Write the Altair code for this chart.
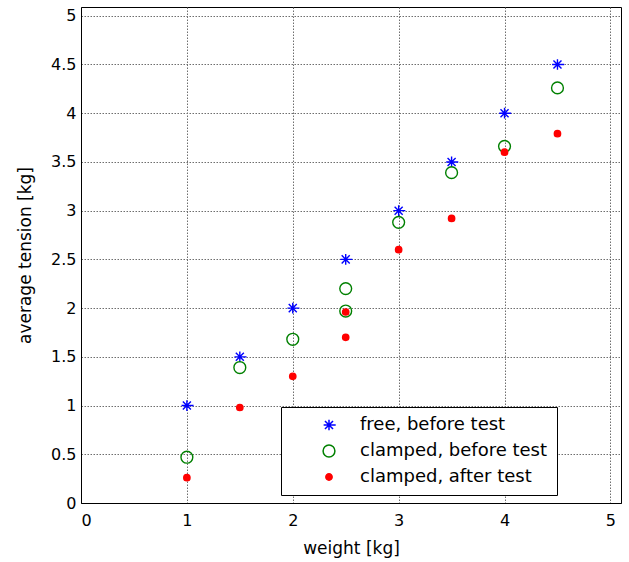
import altair as alt
import pandas as pd

# ---- data ----
series_names = ["free, before test", "clamped, before test", "clamped, after test"]

free_w = [1, 1.5, 2, 2.5, 3, 3.5, 4, 4.5]
free_t = [1.0, 1.5, 2.0, 2.5, 3.0, 3.5, 4.0, 4.5]

clamped_before_w = [1, 1.5, 2, 2.5, 2.5, 3, 3.5, 4, 4.5]
clamped_before_t = [0.47, 1.39, 1.68, 1.97, 2.20, 2.88, 3.39, 3.66, 4.26]

clamped_after_w = [1, 1.5, 2, 2.5, 2.5, 3, 3.5, 4, 4.5]
clamped_after_t = [0.26, 0.98, 1.30, 1.70, 1.96, 2.60, 2.92, 3.60, 3.79]

x_ticks = [0, 1, 2, 3, 4, 5]
y_ticks = [0, 0.5, 1, 1.5, 2, 2.5, 3, 3.5, 4, 4.5, 5]

rows = []
for w, t in zip(free_w, free_t):
    rows.append({"weight": w, "tension": t, "series": series_names[0]})
for w, t in zip(clamped_before_w, clamped_before_t):
    rows.append({"weight": w, "tension": t, "series": series_names[1]})
for w, t in zip(clamped_after_w, clamped_after_t):
    rows.append({"weight": w, "tension": t, "series": series_names[2]})
df = pd.DataFrame(rows)

star = "M-0.8,0L1,0M0,-0.8L0,0.8M-0.6,-0.6L0.6,0.6M-0.6,0.6L0.6,-0.6"
FONT = "DejaVu Sans"

legend = alt.Legend(
    title=None,
    orient="none",
    legendX=200,
    legendY=400,
    fillColor="white",
    strokeColor="black",
    cornerRadius=0,
    padding=9,
    symbolOffset=30,
    labelOffset=22,
    labelFont=FONT,
    labelFontSize=18,
    labelColor="black",
    labelLimit=0,
    rowPadding=8,
    symbolStrokeWidth=1.5,
)

chart = (
    alt.Chart(df)
    .mark_point(filled=False, strokeWidth=1.4, opacity=1)
    .encode(
        x=alt.X(
            "weight:Q",
            scale=alt.Scale(domain=[0, 5.1], nice=False, zero=False),
            axis=alt.Axis(
                title="weight [kg]",
                values=x_ticks,
                format="~g",
                labelPadding=9,
                titleY=45,
                titleBaseline="middle",
            ),
        ),
        y=alt.Y(
            "tension:Q",
            scale=alt.Scale(domain=[0, 5.09], nice=False, zero=False),
            axis=alt.Axis(
                title="average tension [kg]",
                values=y_ticks,
                format="~g",
                labelPadding=5,
                titleX=-56,
                titleY=248,
                titleBaseline="middle",
            ),
        ),
        stroke=alt.Stroke(
            "series:N",
            scale=alt.Scale(domain=series_names, range=["#0000ff", "#008000", "#ff0000"]),
            legend=legend,
        ),
        fill=alt.Fill(
            "series:N",
            scale=alt.Scale(domain=series_names, range=["transparent", "transparent", "#ff0000"]),
            legend=legend,
        ),
        shape=alt.Shape(
            "series:N",
            scale=alt.Scale(domain=series_names, range=[star, "circle", "circle"]),
            legend=legend,
        ),
        size=alt.Size(
            "series:N",
            scale=alt.Scale(type="ordinal", domain=series_names, range=[180, 140, 40]),
            legend=legend,
        ),
    )
    .properties(
        width=540,
        height=496,
        autosize=alt.AutoSizeParams(type="none"),
        padding={"left": 81, "top": 7, "right": 8, "bottom": 59},
        background="white",
    )
    .configure_view(stroke="black", strokeWidth=1)
    .configure_axis(
        labelFont=FONT,
        labelFontSize=16,
        labelColor="black",
        titleFont=FONT,
        titleFontSize=17,
        titleFontWeight="normal",
        titleColor="black",
        domainColor="black",
        domainWidth=1,
        ticks=False,
        labelOverlap=False,
        grid=True,
        gridColor="#6e6e6e",
        gridDash=[1.5, 1.5],
        gridWidth=1,
        gridOpacity=1,
    )
)

chart.save("out.html", embed_options={"renderer": "svg", "actions": False})
